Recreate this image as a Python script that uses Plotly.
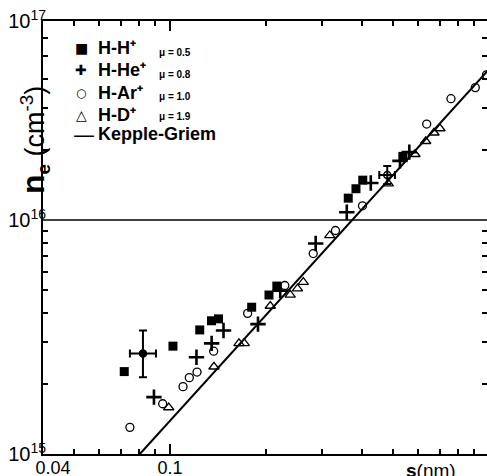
import numpy as np
import plotly.graph_objects as go

# ---------------- data ----------------
hh_s = [0.0719, 0.1022, 0.1240, 0.1350, 0.1420, 0.1804, 0.2044, 0.2163, 0.3622, 0.3830, 0.4022, 0.5377]
hh_n = [2.25e15, 2.89e15, 3.39e15, 3.71e15, 3.78e15, 4.24e15, 4.78e15, 5.22e15, 1.24e16, 1.36e16, 1.48e16, 1.87e16]

hhe_s = [0.0891, 0.1211, 0.1351, 0.1472, 0.1888, 0.2217, 0.2863, 0.3584, 0.4262, 0.5262, 0.5628]
hhe_n = [1.75e15, 2.59e15, 2.97e15, 3.37e15, 3.59e15, 4.99e15, 7.94e15, 1.08e16, 1.44e16, 1.79e16, 1.95e16]

har_s = [0.0749, 0.0949, 0.1099, 0.1150, 0.1216, 0.1371, 0.1752, 0.2291, 0.2813, 0.3303, 0.4014, 0.6381, 0.7603, 0.9062, 0.9824]
har_n = [1.30e15, 1.64e15, 1.94e15, 2.12e15, 2.24e15, 2.75e15, 3.99e15, 5.25e15, 7.19e15, 9.02e15, 1.15e16, 2.57e16, 3.30e16, 3.68e16, 4.17e16]

hd_s = [0.0991, 0.1374, 0.1646, 0.1710, 0.2063, 0.2382, 0.2511, 0.2618, 0.3170, 0.4835, 0.5863, 0.6336, 0.6726, 0.7023]
hd_n = [1.58e15, 2.36e15, 2.97e15, 2.97e15, 4.29e15, 4.79e15, 5.09e15, 5.43e15, 8.59e15, 1.43e16, 1.91e16, 2.17e16, 2.36e16, 2.46e16]

kg_s = [0.0805, 1.0]
kg_n = [1.0e15, 4.4e16]

# error-bar points: centre, and lower/upper limits
eb1_s, eb1_n = [0.0823], [2.69e15]
eb1_s_lo, eb1_s_hi = [0.0749], [0.0904]
eb1_n_lo, eb1_n_hi = [2.13e15], [3.37e15]

eb2_s, eb2_n = [0.4800], [1.557e16]
eb2_s_lo, eb2_s_hi = [0.4531], [0.5074]
eb2_n_lo, eb2_n_hi = [1.425e16], [1.70e16]

ref_line_n = 1e16

series_names = ["H-H\u207a", "H-He\u207a", "H-Ar\u207a", "H-D\u207a", "Kepple-Griem"]
legend_glyphs = ["\u25a0", "\u271a", "\u25cb", "\u25b3", "\u2014"]
legend_glyph_sizes = [14, 14, 12, 14, 22]
mu_labels = ["\u03bc = 0.5", "\u03bc = 0.8", "\u03bc = 1.0", "\u03bc = 1.9"]

x_tick_vals = [0.04, 0.1]
x_tick_text = ["\u2007\u20070.04", "0.1"]
x_minor_vals = [0.05, 0.06, 0.07, 0.08, 0.09, 0.2, 0.3, 0.4, 0.5, 0.6, 0.7, 0.8, 0.9]

y_top = 10 ** (15 + 433 / 234)
y_tick_vals = [1e15, 1e16, y_top]
y_tick_text = ["10<sup>15</sup>", "10<sup>16</sup>", "10<sup>17</sup>"]
y_minor_vals = [2e15, 3e15, 4e15, 5e15, 6e15, 7e15, 8e15, 9e15, 2e16, 3e16, 4e16, 5e16, 6e16]

# ---------------- figure ----------------
FONT = "Liberation Sans"
L, T, W, H = 43, 21, 444, 433


def px_x(p):
    return (p - L) / W


def px_y(p):
    return (T + H - p) / H


fig = go.Figure()

fig.add_trace(go.Scatter(x=hh_s, y=hh_n, mode="markers", name=series_names[0],
                         marker=dict(symbol="square", size=9, color="black")))
fig.add_trace(go.Scatter(x=hhe_s, y=hhe_n, mode="markers", name=series_names[1],
                         marker=dict(symbol="cross-thin", size=11, color="black",
                                     line=dict(width=2.6, color="black"))))
fig.add_trace(go.Scatter(x=har_s, y=har_n, mode="markers", name=series_names[2],
                         marker=dict(symbol="circle-open", size=8, color="black",
                                     line=dict(width=1.3, color="black"))))
fig.add_trace(go.Scatter(x=hd_s, y=hd_n, mode="markers", name=series_names[3],
                         marker=dict(symbol="triangle-up-open", size=9, color="black",
                                     line=dict(width=1.3, color="black"))))
fig.add_trace(go.Scatter(x=kg_s, y=kg_n, mode="lines", name=series_names[4],
                         line=dict(color="black", width=2)))


def err_trace(s, n, slo, shi, nlo, nhi, symbol):
    return go.Scatter(
        x=s, y=n, mode="markers", showlegend=False,
        marker=dict(symbol=symbol, size=7, color="black", line=dict(width=1.5, color="black")),
        error_x=dict(type="data", symmetric=False,
                     array=[h - c for h, c in zip(shi, s)],
                     arrayminus=[c - l for l, c in zip(slo, s)],
                     color="black", thickness=2, width=4),
        error_y=dict(type="data", symmetric=False,
                     array=[h - c for h, c in zip(nhi, n)],
                     arrayminus=[c - l for l, c in zip(nlo, n)],
                     color="black", thickness=2, width=4),
    )


fig.add_trace(err_trace(eb1_s, eb1_n, eb1_s_lo, eb1_s_hi, eb1_n_lo, eb1_n_hi, "circle"))
fig.add_trace(err_trace(eb2_s, eb2_n, eb2_s_lo, eb2_s_hi, eb2_n_lo, eb2_n_hi, "circle-open"))

fig.add_shape(type="line", xref="paper", x0=0, x1=1, yref="y", y0=ref_line_n, y1=ref_line_n,
              line=dict(color="black", width=1.5))

axis_common = dict(
    type="log", showgrid=False, zeroline=False, showline=True, linewidth=2, linecolor="black",
    mirror="ticks", ticks="inside", tickcolor="black", tickwidth=1.5,
)

fig.update_xaxes(**axis_common, range=[np.log10(0.04), np.log10(0.04) + W / 319],
                 tickvals=x_tick_vals, ticktext=x_tick_text, ticklen=10,
                 ticklabelstandoff=-4,
                 tickfont=dict(family=FONT, size=18, color="black"),
                 minor=dict(tickvals=x_minor_vals, ticks="inside", ticklen=5,
                            tickcolor="black", tickwidth=1.5, showgrid=False))
fig.update_yaxes(**axis_common, range=[15, 15 + H / 234],
                 tickvals=y_tick_vals, ticktext=y_tick_text, ticklen=0,
                 ticklabelstandoff=-9,
                 tickfont=dict(family=FONT, size=20, color="black"),
                 minor=dict(tickvals=y_minor_vals, ticks="inside", ticklen=5,
                            tickcolor="black", tickwidth=1.5, showgrid=False))

# hand-lettered key, as in the original figure
row_y_px = [48, 70, 93, 115, 134]
for i, (name, glyph, gs, ypx) in enumerate(zip(series_names, legend_glyphs, legend_glyph_sizes, row_y_px)):
    fig.add_annotation(text=glyph, xref="paper", yref="paper",
                       x=px_x(84 if i == 4 else 81), y=px_y(ypx), xanchor="center", yanchor="middle",
                       showarrow=False, font=dict(family="DejaVu Sans", size=gs, color="black"))
    fig.add_annotation(text=name, xref="paper", yref="paper", x=px_x(96), y=px_y(ypx),
                       xanchor="left", yanchor="middle", showarrow=False,
                       font=dict(family=FONT, size=18, color="black", weight="bold"))

mu_y_px = [53, 74, 96, 117]
for lab, ypx in zip(mu_labels, mu_y_px):
    fig.add_annotation(text=lab, xref="paper", yref="paper", x=px_x(157), y=px_y(ypx),
                       xanchor="left", yanchor="middle", showarrow=False,
                       font=dict(family=FONT, size=10, color="black", weight="bold"))

# axis titles
fig.add_annotation(text="<b><span style='font-size:32px'>n</span><sub>e</sub></b> (cm<sup>-3</sup>)",
                   xref="paper", yref="paper",
                   x=px_x(34), y=px_y(140), textangle=-90, showarrow=False,
                   xanchor="center", yanchor="middle",
                   font=dict(family=FONT, size=27, color="black"))
fig.add_annotation(text="<b>s</b>(nm)", xref="paper", yref="paper",
                   x=px_x(431), y=-4 / H, xanchor="center", yanchor="top", showarrow=False,
                   font=dict(family=FONT, size=19, color="black"))
fig.add_annotation(text="1", xref="x", yref="paper", x=0.0, y=-4 / H, xanchor="center", yanchor="top",
                   showarrow=False, font=dict(family=FONT, size=18, color="black"))

fig.update_layout(
    width=487, height=476,
    margin=dict(l=L, r=0, t=T, b=476 - T - H, autoexpand=False),
    paper_bgcolor="white", plot_bgcolor="white",
    showlegend=False,
)

fig.write_html("out.html")
